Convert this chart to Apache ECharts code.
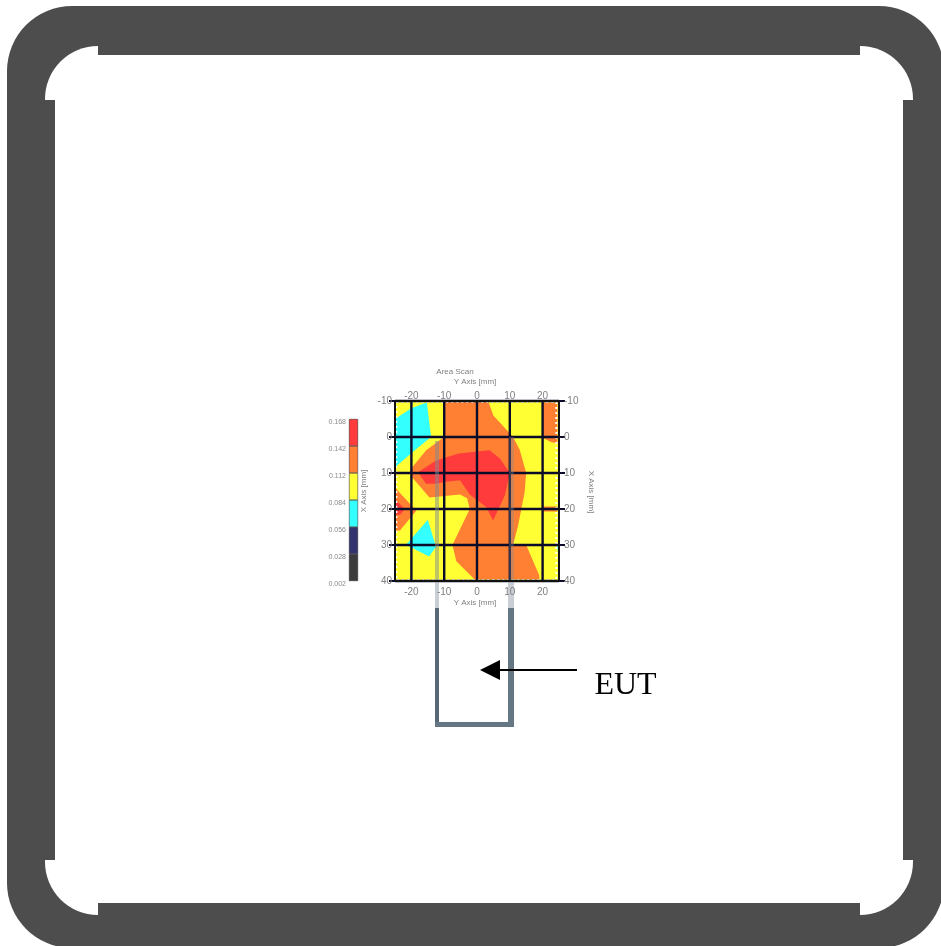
<!DOCTYPE html>
<html><head><meta charset="utf-8">
<style>html,body{margin:0;padding:0;background:#fff}#c{width:941px;height:946px;filter:blur(0.6px)}</style>
<script src="https://cdn.jsdelivr.net/npm/echarts@6/dist/echarts.min.js"></script>
</head><body><div id="c"></div>
<script>
const titleText = 'Area Scan';
const yAxisName = 'Y Axis [mm]';
const xAxisName = 'X Axis [mm]';
const calloutText = 'EUT';
const hTicks = [-20,-10,0,10,20];
const vTicks = [-10,0,10,20,30,40];
const levelLabels = ['0.168','0.142','0.112','0.084','0.056','0.028','0.002'];
const levelColors = ['#ff3b3b','#ff7f33','#ffff33','#33ffff','#33336e','#3c3c3c'];
const background = [[-25,-10],[25,-10],[25,40],[-25,40]];
const dottedEdge = [[-24.6,-9.7],[24.2,-9.7],[24.2,39.7],[-24.6,39.7],[-24.6,-9.7]];
const orangeMain = [[-10,-10],[3.4,-10],[5,-6],[11,0],[13,3.5],[15,10],[14.5,15.5],[12.5,24.7],[11,30],[15,30],[19,38.5],[19,39.6],[-0.7,39.6],[-6.3,34.5],[-7.5,30],[-2.2,20],[-3,17],[-5.2,16],[-14.5,16.8],[-20,11],[-20.3,9],[-15.5,3.7],[-10,0]];
const orangeLeft = [[-25,14],[-22,17],[-18.5,20.5],[-23.5,26],[-25,26]];
const orangeTopRight = [[20,-9.6],[24.5,-9.6],[24.5,1.8],[22.5,1.4],[20,0.2]];
const orangeSliver = [[20,19.3],[24.5,19.3],[24.5,20.7],[20,20.7]];
const redMain = [[-18,9.8],[-12.5,6.5],[-5.5,4.6],[3.8,3.7],[7,6],[10,10],[8.5,16.2],[4.9,23.2],[2.9,19.5],[-2.2,16],[-5.2,12],[-9.4,12.4],[-12.5,13],[-15.5,13]];
const redLeft = [[-25,17.3],[-22,20],[-23.4,21.5],[-25,21.5]];
const cyanTop = [[-25,-5],[-20,-8],[-15.3,-9.6],[-14,0],[-18.5,3.3],[-25,8.4]];
const cyanBottom = [[-21.7,30],[-15,23],[-12.5,30.5],[-14.6,33.2],[-19.7,30.8]];
const cyanRight = [[24.4,30.5],[25,30],[25,33.5]];
const bands = [
  {color:levelColors[2],pts:background},
  {color:levelColors[1],pts:orangeMain},
  {color:levelColors[1],pts:orangeLeft},
  {color:levelColors[1],pts:orangeTopRight},
  {color:levelColors[1],pts:orangeSliver},
  {color:levelColors[0],pts:redMain},
  {color:levelColors[0],pts:redLeft},
  {color:levelColors[3],pts:cyanTop},
  {color:levelColors[3],pts:cyanBottom},
  {color:levelColors[3],pts:cyanRight}
];
const lineCol = '#0b0b2a', txt = '#808080', fs = 8;
const frame = '#4d4d4d';
const font = 'Liberation Sans';
const labelStyle = {color:txt,fontSize:10,fontFamily:font};
const axisLine = {show:true,onZero:false,lineStyle:{color:'#111',width:2}};
const xBase = {type:'value',min:-25,max:25,gridIndex:0,z:80,splitLine:{show:false},axisLine,
  axisTick:{show:false}};
const yBase = {type:'value',min:-10,max:40,inverse:true,gridIndex:0,z:80,splitLine:{show:false},axisLine,
  axisTick:{show:true,length:6,lineStyle:{color:lineCol,width:2},customValues:vTicks}};
const rect = (x,y,w,h,fill,opacity)=>({type:'rect',silent:true,shape:{x,y,width:w,height:h},style:{fill,opacity:opacity==null?1:opacity}});
const text = (x,y,t,extra)=>Object.assign({type:'text',silent:true,x,y,style:Object.assign({text:t,fill:txt,font:fs+'px "'+font+'"',textAlign:'center',textVerticalAlign:'middle'},extra||{})});
const option = {
  animation:false,backgroundColor:'#fff',
  grid:[{left:395,top:401,width:164,height:180},{left:349,top:419,width:9,height:162}],
  xAxis:[
    Object.assign({},xBase,{position:'bottom',axisLabel:Object.assign({},labelStyle,{margin:6,customValues:hTicks})}),
    Object.assign({},xBase,{position:'top',axisLabel:Object.assign({},labelStyle,{margin:0,customValues:hTicks})}),
    {type:'category',gridIndex:1,data:['level'],show:false}
  ],
  yAxis:[
    Object.assign({},yBase,{position:'left',axisLabel:Object.assign({},labelStyle,{margin:3,customValues:vTicks})}),
    Object.assign({},yBase,{position:'right',axisLabel:Object.assign({},labelStyle,{margin:5,customValues:vTicks})}),
    {type:'value',gridIndex:1,min:0,max:6,interval:1,splitLine:{show:false},axisLine:{show:false},axisTick:{show:false},
     axisLabel:Object.assign({},labelStyle,{margin:3,color:'#8a8a8a',fontSize:7,verticalAlign:'top',formatter:(v)=>levelLabels[6-v]})}
  ],
  series:[
    {type:'custom',xAxisIndex:0,yAxisIndex:0,clip:false,z:2,data:[0],silent:true,
     renderItem:(p,api)=>({type:'group',children:bands.map(b=>({type:'polygon',shape:{points:b.pts.map(q=>api.coord(q))},style:{fill:b.color}}))})},
    {type:'custom',xAxisIndex:0,yAxisIndex:0,clip:false,z:3,data:[0],silent:true,
     renderItem:(p,api)=>({type:'polyline',shape:{points:dottedEdge.map(q=>api.coord(q))},style:{fill:'none',stroke:'#fff',lineWidth:2,lineDash:[2,3]}})},
    {type:'custom',xAxisIndex:0,yAxisIndex:0,clip:false,z:5,data:[0],silent:true,
     renderItem:(p,api)=>({type:'group',children:
       hTicks.map(v=>({type:'line',shape:(a=>({x1:a[0],y1:a[1],x2:api.coord([v,40])[0],y2:api.coord([v,40])[1]}))(api.coord([v,-10])),style:{stroke:lineCol,lineWidth:2.4}})).concat(
       vTicks.map(v=>({type:'line',shape:(a=>({x1:a[0],y1:a[1],x2:api.coord([25,v])[0],y2:api.coord([25,v])[1]}))(api.coord([-25,v])),style:{stroke:lineCol,lineWidth:2.4}})))})},
    ...levelColors.slice().reverse().map((c,i)=>({type:'bar',xAxisIndex:2,yAxisIndex:2,stack:'levels',barWidth:9,silent:true,z:2,
      data:[1],itemStyle:{color:c,borderColor:'#20202a',borderWidth:0.5}}))
  ],
  graphic:{elements:[
    {type:'rect',silent:true,z:-10,shape:{x:7,y:6,width:937,height:942,r:65},style:{fill:frame}},
    {type:'rect',silent:true,z:-9,shape:{x:45,y:46,width:868,height:869,r:53},style:{fill:'#fff'}},
    Object.assign(rect(98,46,762,9,frame),{z:-8}),
    Object.assign(rect(98,903,762,12,frame),{z:-8}),
    Object.assign(rect(45,100,10,760,frame),{z:-8}),
    Object.assign(rect(903,100,10,760,frame),{z:-8}),
    Object.assign(rect(435,441,4,140,'#7d8b96',0.5),{z:60}),
    Object.assign(rect(509,437,5,144,'#7d8b96',0.35),{z:60}),
    Object.assign(rect(435,581,4,27,'#9aa6b0',0.55),{z:60}),
    Object.assign(rect(508,581,6,27,'#9aa6b0',0.55),{z:60}),
    Object.assign(rect(435,608,4,119,'#566876'),{z:60}),
    Object.assign(rect(508,608,6,119,'#667784'),{z:60}),
    Object.assign(rect(435,722,79,5,'#667784'),{z:60}),
    Object.assign(rect(499,669,78,2,'#000'),{z:70}),
    {type:'polygon',silent:true,z:70,shape:{points:[[480,670],[500,660],[500,680]]},style:{fill:'#000'}},
    Object.assign(text(625.5,686,calloutText,{fill:'#000',font:'32px "Liberation Serif"'}),{z:70}),
    Object.assign(text(455,372,titleText),{z:70}),
    Object.assign(text(475,382,yAxisName),{z:70}),
    Object.assign(text(475,603,yAxisName),{z:70}),
    Object.assign(text(364,491,xAxisName),{z:70,rotation:Math.PI/2}),
    Object.assign(text(591,492,xAxisName),{z:70,rotation:-Math.PI/2})
  ]}
};
const chart = echarts.init(document.getElementById('c'),null,{renderer:'canvas',width:941,height:946});
chart.setOption(option);
</script></body></html>
